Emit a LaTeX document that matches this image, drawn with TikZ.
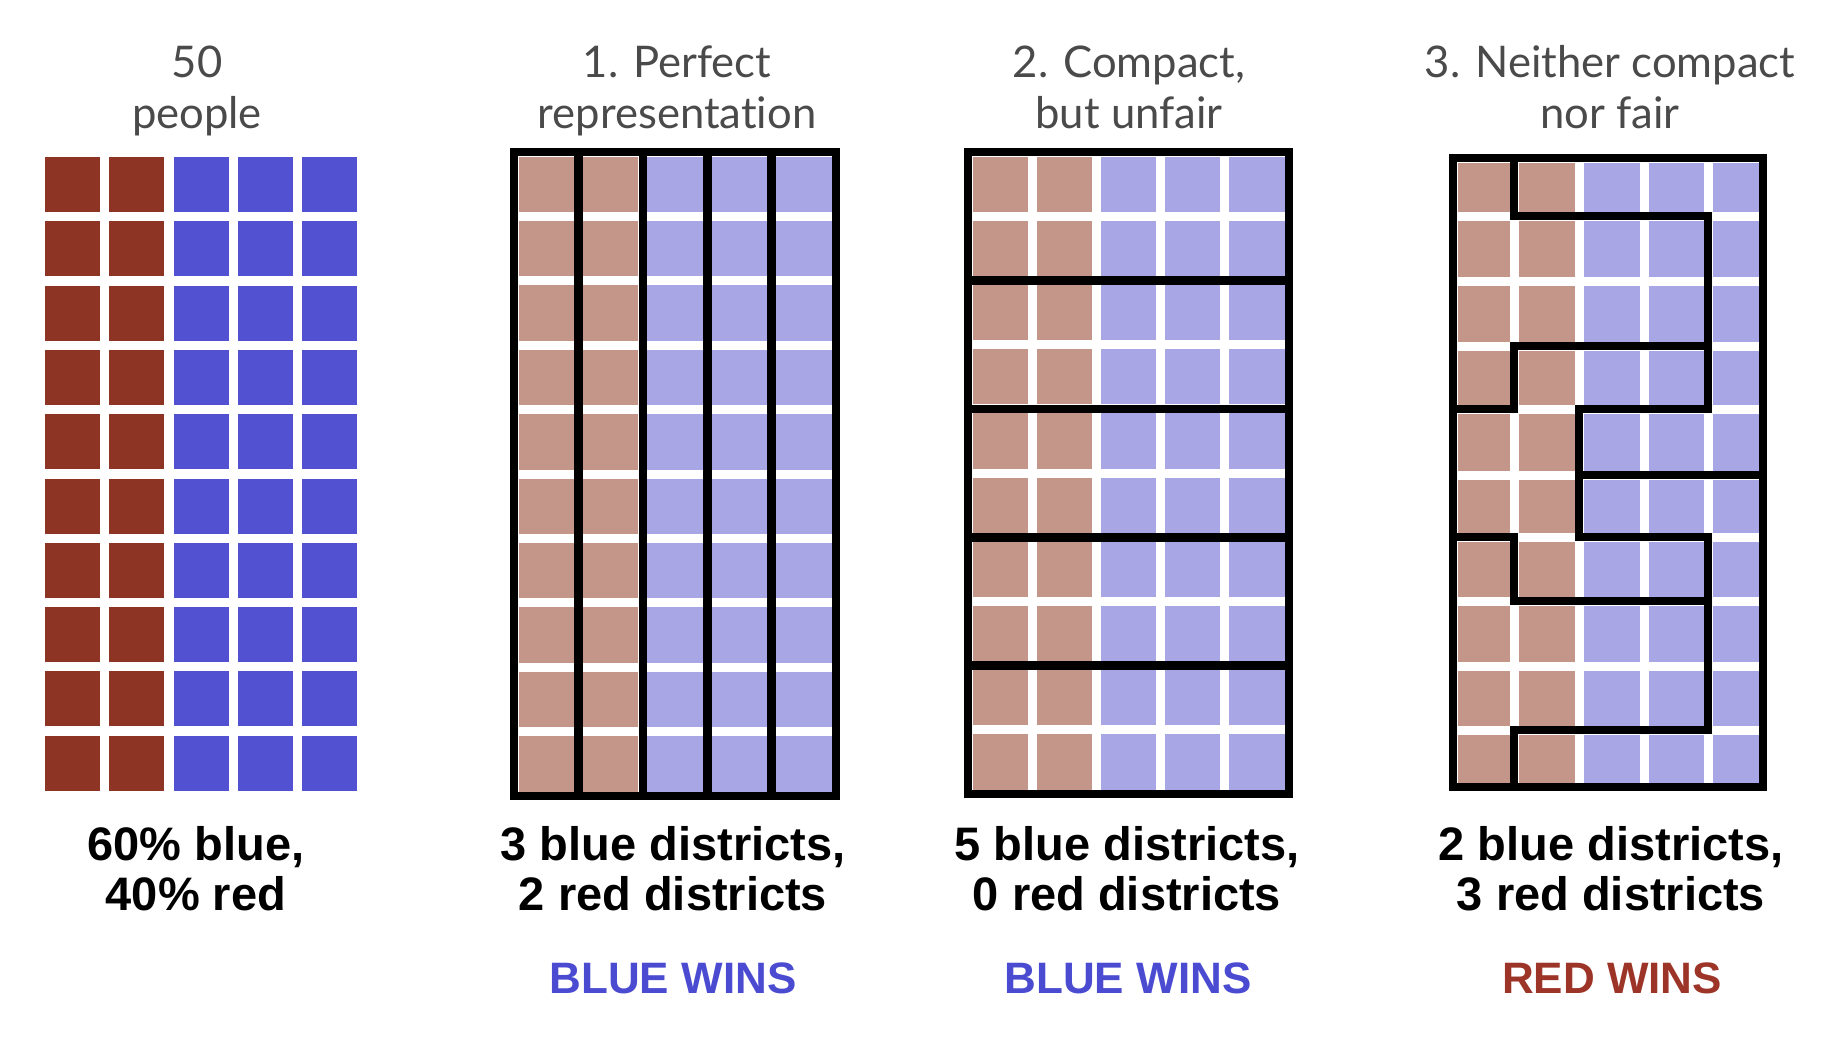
\documentclass[tikz,border=0pt]{standalone}
\usepackage{fontspec}
\setmainfont{Liberation Sans}
\newfontfamily\titlefont[Ligatures={NoCommon}]{Lato}
\newfontfamily\labelfont{Liberation Sans}
\definecolor{dred}{HTML}{8E3424}
\definecolor{dblue}{HTML}{5151D2}
\definecolor{lred}{HTML}{C4968A}
\definecolor{lblue}{HTML}{A8A6E4}
\definecolor{titlegray}{HTML}{4A4A4A}
\definecolor{winblue}{HTML}{4B4BD2}
\definecolor{winred}{HTML}{9C3428}
\newcommand\lightcells[4]{%
  \foreach \i in {0,...,4}{\foreach \j in {0,...,9}{%
    \pgfmathsetmacro\xa{#1+#3*\i+4.5}%
    \pgfmathsetmacro\xb{#1+#3*(\i+1)-4.5}%
    \pgfmathsetmacro\ya{#2+#4*\j+4.5}%
    \pgfmathsetmacro\yb{#2+#4*(\j+1)-4.5}%
    \ifnum\i<2 \def\cellcol{lred}\else\def\cellcol{lblue}\fi
    \fill[\cellcol] (\xa,\ya) rectangle (\xb,\yb);}}}
\begin{document}
\begin{tikzpicture}[x=0.5pt,y=-0.5pt,
  ttl/.style={font=\titlefont\fontsize{21.8}{25}\selectfont, text=titlegray, anchor=base, inner sep=0pt},
  lbl/.style={font=\labelfont\bfseries\fontsize{23.5}{26}\selectfont, text=black, anchor=base, inner sep=0pt},
  win/.style={font=\labelfont\bfseries\fontsize{22}{26}\selectfont, anchor=base, inner sep=0pt},
  district/.style={line width=4.3pt, line join=miter, line cap=rect, draw=black}]
\useasboundingbox (0,0) rectangle (1822,1040);
\fill[white] (0,0) rectangle (1822,1040);

% ---------- panel 0: 50 people ----------
\foreach \i in {0,...,4}{\foreach \j in {0,...,9}{%
  \pgfmathsetmacro\xa{45+64.3*\i}%
  \pgfmathsetmacro\ya{157+64.3*\j}%
  \ifnum\i<2 \def\cellcol{dred}\else\def\cellcol{dblue}\fi
  \fill[\cellcol] (\xa,\ya) rectangle ++(55,55);}}

% ---------- panel 1: perfect representation ----------
\lightcells{514}{152}{64.4}{64.4}
\draw[district] (514,152) rectangle (836,796);
\foreach \k in {1,...,4}{\draw[district] ({514+64.4*\k},152) -- ({514+64.4*\k},796);}

% ---------- panel 2: compact but unfair ----------
\lightcells{968}{152}{64.2}{64.2}
\draw[district] (968,152) rectangle (1289,794);
\foreach \k in {2,4,6,8}{\draw[district] (968,{152+64.2*\k}) -- (1289,{152+64.2*\k});}

% ---------- panel 3: neither compact nor fair ----------
\foreach \i in {0,...,4}{\foreach \j in {0,...,9}{%
  \pgfmathsetmacro\xa{{1453,1514,1579,1644,1708,1763}[\i]+4.5}%
  \pgfmathsetmacro\xb{{1453,1514,1579,1644,1708,1763}[\i+1]-4.5}%
  \pgfmathsetmacro\ya{{158,216,281,346,409,475,537,601,666,730,787}[\j]+4.5}%
  \pgfmathsetmacro\yb{{158,216,281,346,409,475,537,601,666,730,787}[\j+1]-4.5}%
  \ifnum\i<2 \def\cellcol{lred}\else\def\cellcol{lblue}\fi
  \fill[\cellcol] (\xa,\ya) rectangle (\xb,\yb);}}
\def\pxa{1453}\def\pxb{1514}\def\pxc{1579}\def\pxd{1644}\def\pxe{1708}\def\pxf{1763}
\def\pya{158}\def\pyb{216}\def\pyc{281}\def\pyd{346}\def\pye{409}\def\pyf{475}
\def\pyg{537}\def\pyh{601}\def\pyi{666}\def\pyj{730}\def\pyk{787}
\draw[district] (\pxa,\pya) rectangle (\pxf,\pyk);
\draw[district] (\pxb,\pya) -- (\pxb,\pyb) -- (\pxe,\pyb) -- (\pxe,\pye) -- (\pxc,\pye)
  -- (\pxc,\pyg) -- (\pxe,\pyg) -- (\pxe,\pyj) -- (\pxb,\pyj) -- (\pxb,\pyk);
\draw[district] (\pxa,\pye) -- (\pxb,\pye) -- (\pxb,\pyd) -- (\pxe,\pyd);
\draw[district] (\pxc,\pyf) -- (\pxf,\pyf);
\draw[district] (\pxa,\pyg) -- (\pxb,\pyg) -- (\pxb,\pyh) -- (\pxe,\pyh);

% ---------- titles ----------
\node[ttl] (t0a) at (197,77) {50};
\node[ttl] (t0b) at (197,128) {people};
\node[ttl] (t1a) at (677,77) {1. Perfect};
\node[ttl] (t1b) at (677,128) {representation};
\node[ttl] (t2a) at (1129,77) {2. Compact,};
\node[ttl] (t2b) at (1129,128) {but unfair};
\node[ttl] (t3a) at (1610,77) {3. Neither compact};
\node[ttl] (t3b) at (1610,128) {nor fair};

% ---------- labels ----------
\node[lbl] (l0a) at (196,860) {60\% blue,};
\node[lbl] (l0b) at (196,910) {40\% red};
\node[lbl] (l1a) at (673,860) {3 blue districts,};
\node[lbl] (l1b) at (673,910) {2 red districts};
\node[lbl] (l2a) at (1127,860) {5 blue districts,};
\node[lbl] (l2b) at (1127,910) {0 red districts};
\node[lbl] (l3a) at (1611,860) {2 blue districts,};
\node[lbl] (l3b) at (1611,910) {3 red districts};
\node[win, text=winblue] (w1) at (673,993) {BLUE WINS};
\node[win, text=winblue] (w2) at (1128,993) {BLUE WINS};
\node[win, text=winred] (w3) at (1612,993) {RED WINS};
\end{tikzpicture}
\end{document}
